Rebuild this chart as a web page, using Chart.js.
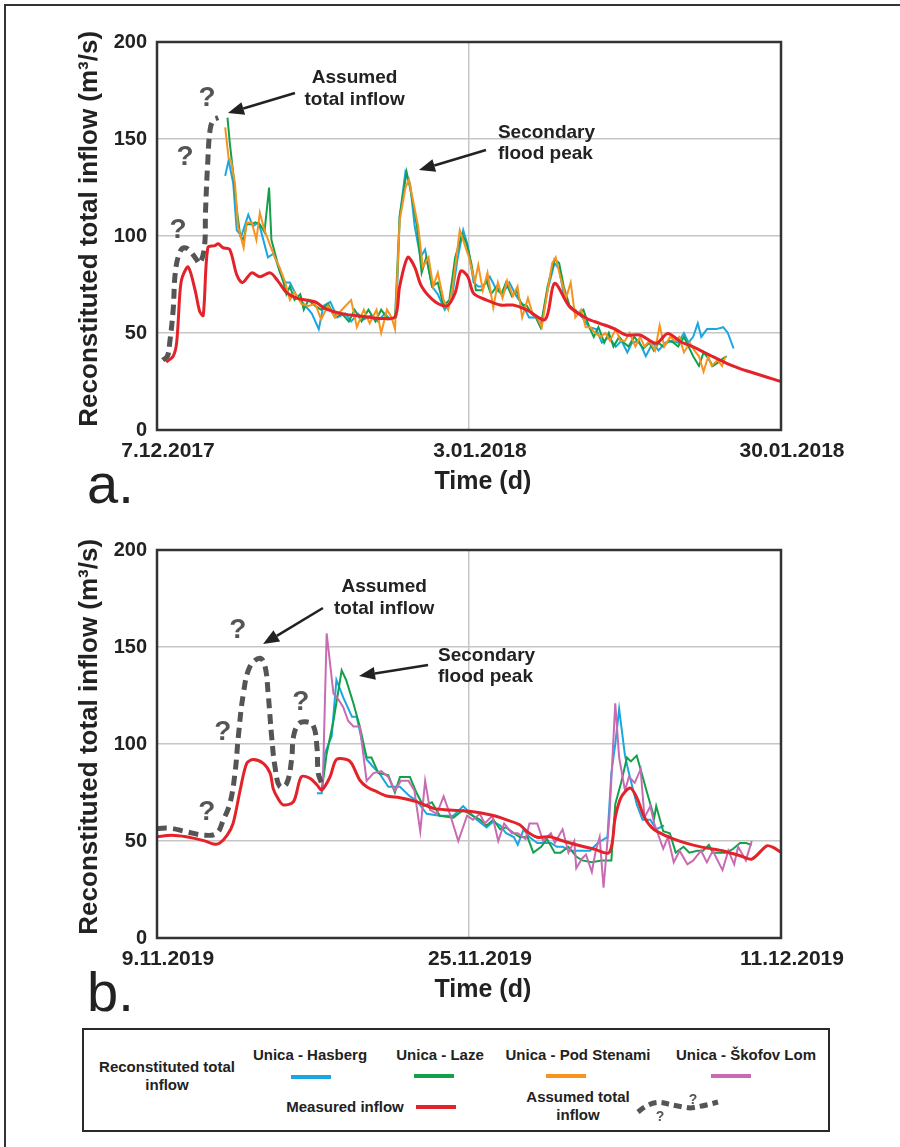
<!DOCTYPE html>
<html>
<head>
<meta charset="utf-8">
<script src="https://cdn.jsdelivr.net/npm/chart.js@4.4.1/dist/chart.umd.min.js"></script>
<style>
  body { margin: 0; background: #fff; }
  #page { position: relative; width: 900px; height: 1147px; overflow: hidden;
          font-family: 'Liberation Sans', Arial, sans-serif; color: #222; }
  #frame { position: absolute; left: 4px; top: 4px; width: 1000px; height: 1200px; border: 2px solid #333; }
  #page canvas { position: absolute; left: 0; }
  #legend { position: absolute; left: 82px; top: 1028px; width: 744px; height: 100px; border: 2.5px solid #2a2a2a; }
  .lg { position: absolute; font-weight: bold; font-size: 15px; white-space: nowrap; transform: translate(-50%, -50%); }
  .sw { position: absolute; height: 4px; width: 40px; }
</style>
</head>
<body>
<div id="page">
  <div id="frame"></div>
  <canvas id="chartA" width="900" height="520" style="top:0"></canvas>
  <canvas id="chartB" width="900" height="520" style="top:508px"></canvas>

  <div id="legend"></div>
  <div class="lg" style="left:167px;top:1076px;text-align:center;line-height:18px">Reconstituted total<br>inflow</div>
  <div class="lg" style="left:310px;top:1054px">Unica - Hasberg</div>
  <div class="sw" style="left:291px;top:1075px;background:#1aa7e0"></div>
  <div class="lg" style="left:440px;top:1054px">Unica - Laze</div>
  <div class="sw" style="left:414px;top:1074px;background:#14a04a"></div>
  <div class="lg" style="left:578px;top:1054px">Unica - Pod Stenami</div>
  <div class="sw" style="left:546px;top:1074px;background:#f7931e"></div>
  <div class="lg" style="left:746px;top:1054px">Unica - Škofov Lom</div>
  <div class="sw" style="left:711px;top:1074px;background:#c96bb3"></div>
  <div class="lg" style="left:345px;top:1106px">Measured inflow</div>
  <div class="sw" style="left:416px;top:1105px;background:#e3222a"></div>
  <div class="lg" style="left:578px;top:1106px;text-align:center;line-height:18px">Assumed total<br>inflow</div>
  <svg style="position:absolute;left:0;top:0" width="900" height="1147">
    <path d="M638,1112 Q652,1100 664,1103 Q676,1106 690,1108 Q704,1106 718,1102" fill="none"
          stroke="#555" stroke-width="5" stroke-dasharray="8,5"/>
    <text x="660" y="1121" font-family="Liberation Sans, Arial" font-weight="bold" font-size="14" fill="#555" text-anchor="middle">?</text>
    <text x="693" y="1104" font-family="Liberation Sans, Arial" font-weight="bold" font-size="14" fill="#555" text-anchor="middle">?</text>
  </svg>
</div>

<script>
// ---- panel a: 7.12.2017 - 30.01.2018 (days since 7.12.2017) ----
const dateTicksA = ['7.12.2017', '3.01.2018', '30.01.2018'];

const measuredDaysA = [0.8,1.4,1.7,2.0,2.2,2.7,3.3,3.7,4.0,4.4,5.0,5.3,5.7,6.3,6.9,7.4,8.2,8.9,9.8,10.5,11.2,12.1,13.7,14.5,16.0,18.0,19.4,20.6,21.0,21.7,22.3,22.9,24.1,25.1,25.8,26.3,26.9,27.4,28.5,29.7,30.8,32.0,33.6,34.4,35.7,37.2,38.3,39.5,40.6,41.8,43.2,44.2,45.3,46.4,48.1,49.3,50.4,51.3,52.8,54.0];
const measuredFlowA = [35,38,45,72,79,84,72,61,59,94,95,96,94,93,80,76,81,79,81,76.5,71,68,66,62.7,60,58.4,57.5,58.4,74,89,84,74,66,64,70.6,82,79,70.4,67,64.4,64.4,61.9,57,75.6,63.6,57.5,55,52.4,49,49,44.7,49.8,45.5,42.9,37.8,34.4,31.8,30,27.2,25];

const assumedDaysA = [0.5,0.9,1.1,1.4,1.6,2.0,2.4,2.9,3.4,3.7,4.1,4.2,4.4,4.6,4.9,5.3];
const assumedFlowA = [36,38,45,62,82,92,94,92,88,86,94,113,139,155,160,161];

const hasbergDaysA = [5.9,6.2,6.6,6.9,7.3,7.9,8.3,8.8,9.2,9.6,10.1,10.5,11.1,11.5,12.1,12.7,13.4,14.0,14.4,15.0,15.6,16.3,16.8,17.4,17.9,18.5,19.1,19.7,20.2,20.7,21.0,21.5,21.9,22.3,22.8,23.2,23.8,24.3,24.9,25.5,26.0,26.5,26.9,27.4,27.8,28.2,28.8,29.4,29.9,30.5,31.1,31.6,32.2,32.8,33.2,33.8,34.4,34.8,35.2,35.7,36.2,36.8,37.4,38.0,38.5,39.1,39.7,40.2,40.7,41.1,41.7,42.3,42.9,43.4,44.0,44.6,45.1,45.6,46.0,46.4,46.8,47.1,47.6,48.0,48.4,49.0,49.4,49.9];
const hasbergFlowA = [131,139,127,103,100,111,105,107,98,89,91,84,76,76,69,65,60,52,64,66,58,60,56,60,57,59,56,60,57,58,110,133,127,105,89,93,74,70,62,67,88,103,95,76,74,74,79,72,70,76,69,65,58,58,53,72,86,83,70,64,62,58,53,52,45,48,43,46,40,45,46,38,45,41,45,46,45,50,45,48,55,48,52,52,52,53,50,42];

const lazeDaysA = [6.1,6.3,6.6,6.9,7.2,7.5,7.75,8.2,8.5,8.9,9.3,9.7,9.9,10.3,10.6,10.9,11.2,11.5,11.9,12.4,12.7,13.1,13.7,14.2,14.8,15.4,16.0,16.6,17.1,17.7,18.3,18.9,19.4,20.0,20.6,21.0,21.6,22.0,22.5,22.9,23.3,23.8,24.3,24.8,25.3,25.8,26.4,26.8,27.2,27.6,28.1,28.5,28.9,29.4,29.8,30.2,30.7,31.1,31.5,32.0,32.4,32.8,33.2,33.8,34.4,34.8,35.2,35.7,36.1,36.5,36.9,37.4,37.8,38.2,38.7,39.1,39.5,40.0,40.4,40.8,41.3,41.7,42.1,42.6,43.0,43.4,43.8,44.3,44.7,45.1,45.6,46.0,46.4,46.9,47.3,47.7,48.1,48.6,49.0,49.3];
const lazeFlowA = [161,148,132,114,100,98,106,106,107,106,102,125,98,89,82,77,70,74,67,70,62,67,64,62,65,58,60,56,62,56,62,56,62,57,58,110,133,122,105,81,89,74,76,64,67,89,101,96,86,72,72,77,70,74,70,76,69,72,65,64,60,58,53,74,88,86,74,64,62,60,62,53,48,53,45,50,43,48,45,43,48,45,42,45,41,45,43,46,45,43,48,43,38,33,40,37,33,35,37,38];

const podStenamiDaysA = [5.9,6.2,6.4,6.75,7.0,7.5,7.75,8.2,8.6,8.9,9.3,9.8,10.2,10.6,11.1,11.5,11.9,12.5,13.1,13.7,14.2,14.8,15.4,16.0,16.8,17.3,17.9,18.4,19.0,19.4,19.9,20.3,20.6,21.0,21.5,21.8,22.2,22.6,23.0,23.5,23.9,24.3,24.8,25.2,25.6,26.2,26.6,27.0,27.5,27.8,28.2,28.6,29.1,29.5,29.9,30.3,30.8,31.2,31.6,32.1,32.5,32.9,33.3,33.8,34.2,34.5,34.9,35.4,35.8,36.2,36.7,37.1,37.5,37.9,38.4,38.8,39.2,39.7,40.1,40.5,40.9,41.4,41.8,42.2,42.6,43.1,43.5,43.9,44.4,44.8,45.2,45.6,46.1,46.5,46.9,47.3,47.7,48.0,48.5,48.9,49.2];
const podStenamiFlowA = [156,140,139,127,105,94,107,107,98,112,103,95,89,84,76,67,71,65,64,65,57,64,58,62,67,53,62,55,62,50,62,58,52,108,125,129,117,105,84,89,74,81,67,62,74,103,96,89,76,85,72,81,63,76,68,77,69,74,58,68,60,58,53,72,86,89,79,68,76,58,62,53,53,50,48,50,46,52,46,46,50,43,48,43,46,41,54,43,48,46,48,40,45,41,38,30,38,33,36,33,38];

// ---- panel b: 9.11.2019 - 11.12.2019 (days since 9.11.2019) ----
const dateTicksB = ['9.11.2019', '25.11.2019', '11.12.2019'];

const measuredDaysB = [0,0.75,1.5,2.4,2.9,3.2,3.6,3.9,4.26,4.6,4.94,5.45,5.8,5.96,6.2,6.48,7.0,7.4,7.85,8.2,8.45,8.87,9.2,9.73,9.98,10.4,10.75,11.27,11.78,12.46,13.3,14.17,15.0,16.05,17.25,17.9,18.6,18.96,19.5,20.15,20.67,21.5,22.4,23.2,23.5,23.8,24.26,24.6,25.0,25.45,26.1,27.0,28.0,29.0,29.9,30.5,31.27,31.6,32.0];
const measuredFlowB = [52.2,53,52.2,50.2,48.5,48.8,53,59,76,90,92,90,85,77,72,68.6,70.3,83,82.3,79,76.3,83,92,92,90,81.4,78,75.4,73.2,72.3,70.3,66.8,66,65.3,63.1,61,58.4,55,51.9,52.2,50.5,48.1,45.9,44.2,62.2,72.5,77.3,72.5,62.2,56.2,52.7,49.3,46.7,45,42.4,40.7,47.5,46.7,44.2];

const assumedDaysB = [0,0.67,1.5,2.4,3.06,3.4,3.74,4.0,4.17,4.43,4.77,5.28,5.54,5.7,5.88,6.05,6.3,6.65,6.9,7.0,7.25,7.6,8.0,8.2,8.27,8.45];
const assumedFlowB = [56.5,56.6,54.8,53,54,60.8,69.4,85,103.8,126,140,144.2,140,126,103.8,88.3,78,79.7,91.8,103.8,110.3,111.5,109.8,98.6,85,79.7];

const hasbergDaysB = [8.2,8.45,8.6,8.96,9.2,9.55,10.0,10.24,10.5,10.75,11.1,11.4,11.86,12.46,12.97,13.3,13.83,14.5,15.2,15.7,16.4,16.9,17.25,17.6,17.9,18.3,18.5,18.8,19.1,19.5,19.8,20.2,20.5,20.8,21.2,21.7,22.2,22.6,23.1,23.3,23.5,23.7,24.0,24.2,24.6,24.9,25.3,25.6,26.0];
const hasbergFlowB = [74.6,74.6,95,104,133,124,114,114,102,92,88,85,78,78,73,71,64,63,63,68,61,57,60,58,54,52,48,56,52,49,49,49,47,47,45,45,45,49,52,85,100,118,94,85,69,61,61,56,58];

const lazeDaysB = [8.45,8.7,9.05,9.47,9.7,10.07,10.4,10.75,11.0,11.35,11.86,12.2,12.46,12.97,13.3,13.66,14.1,14.5,15.2,15.7,16.2,16.56,16.9,17.25,17.6,17.9,18.3,18.6,19.0,19.3,19.7,20.0,20.4,20.7,21.1,21.5,21.8,22.3,22.8,23.3,23.5,23.8,24.1,24.3,24.6,24.8,25.1,25.5,25.6,25.96,26.3,26.6,27.0,27.3,27.7,28.0,28.3,28.5,28.9,29.2,29.55,29.9,30.2,30.5];
const lazeFlowB = [76,95,112,138,133,121,109,93,93,85,84,75,83,83,75,68,70,63,62,66,63,61,58,61,56,57,54,52,52,44,47,51,44,44,47,42,40,39,40,40,69,80,93,91,94,87,76,62,68,55,54,44,47,44,45,45,48,44,44,44,46,49,49,48];

const skofovLomDaysB = [8.5,8.7,9.05,9.3,9.55,9.8,10.07,10.4,10.75,11.1,11.5,11.86,12.2,12.5,12.9,13.2,13.5,13.75,14.0,14.35,14.7,15.05,15.45,15.9,16.2,16.56,16.8,17.2,17.5,17.8,18.2,18.5,18.9,19.1,19.5,19.8,20.2,20.4,20.8,21.1,21.4,21.5,21.8,22.0,22.3,22.5,22.7,22.9,23.2,23.5,23.7,24.0,24.2,24.5,24.8,25.0,25.3,25.5,25.96,26.2,26.5,26.8,27.2,27.5,27.9,28.2,28.5,29.0,29.3,29.6,29.8,30.2,30.5];
const skofovLomFlowB = [78,157,126,123,119,112,109,109,81,85,86,83,76,81,81,76,55,81,66,64,73,63,50,63,61,64,59,63,50,59,54,54,51,59,59,50,54,49,56,44,50,36,41,43,34,45,52,26,62,121,93,76,83,80,87,62,68,59,46,52,39,45,38,40,45,39,45,35,45,38,47,40,50];

const FONT = "'Liberation Sans', Arial, sans-serif";
Chart.defaults.font.family = FONT;
Chart.defaults.color = '#222';

const pts = (xs, ys) => xs.map((x, i) => ({ x, y: ys[i] }));

function noisy(label, xs, ys, color, order) {
  return { label, data: pts(xs, ys), borderColor: color, borderWidth: 2, pointRadius: 0, tension: 0, order };
}
function measured(xs, ys) {
  return { label: 'Measured inflow', data: pts(xs, ys), borderColor: '#e3222a', borderWidth: 3, pointRadius: 0, tension: 0.3, order: 1 };
}
function assumed(xs, ys) {
  return { label: 'Assumed total inflow', data: pts(xs, ys), borderColor: '#555', borderWidth: 5,
           borderDash: [10, 6], pointRadius: 0, tension: 0.4, order: 2 };
}

// arrows, labels and question marks, placed in data coordinates
const notesPlugin = {
  id: 'notes',
  afterDraw(chart, args, opts) {
    const { ctx, chartArea: a, scales: { x, y } } = chart;
    const px = d => x.getPixelForValue(d), py = v => y.getPixelForValue(v);
    ctx.save();
    ctx.strokeStyle = '#333';
    ctx.lineWidth = 2.5;
    ctx.strokeRect(a.left, a.top, a.right - a.left, a.bottom - a.top);

    ctx.fillStyle = '#222';
    ctx.font = 'bold 19px ' + FONT;
    ctx.textBaseline = 'middle';
    opts.texts.forEach(t => {
      ctx.textAlign = t.align;
      ctx.fillText(t.text, px(t.day), py(t.val));
    });

    ctx.strokeStyle = '#222';
    ctx.lineWidth = 2.5;
    opts.arrows.forEach(ar => {
      const x0 = px(ar.from[0]), y0 = py(ar.from[1]);
      const x1 = px(ar.to[0]), y1 = py(ar.to[1]);
      const ang = Math.atan2(y1 - y0, x1 - x0), head = 16, half = 6.5;
      const bx = x1 - head * Math.cos(ang), by = y1 - head * Math.sin(ang);
      ctx.beginPath();
      ctx.moveTo(x0, y0);
      ctx.lineTo(bx, by);
      ctx.stroke();
      ctx.beginPath();
      ctx.moveTo(x1, y1);
      ctx.lineTo(bx + half * Math.sin(ang), by - half * Math.cos(ang));
      ctx.lineTo(bx - half * Math.sin(ang), by + half * Math.cos(ang));
      ctx.closePath();
      ctx.fill();
    });

    ctx.fillStyle = '#555';
    ctx.font = 'bold 28px ' + FONT;
    ctx.textAlign = 'center';
    opts.marks.forEach(m => ctx.fillText('?', px(m[0]), py(m[1])));

    ctx.fillStyle = '#222';
    ctx.font = '56px ' + FONT;
    ctx.textAlign = 'left';
    ctx.textBaseline = 'alphabetic';
    ctx.fillText(opts.letter, a.left - 70, a.bottom + 73);
    ctx.restore();
  }
};

function makeChart(canvas, span, tickLabels, datasets, notes) {
  return new Chart(canvas, {
    type: 'line',
    data: { datasets },
    options: {
      responsive: false,
      animation: false,
      events: [],
      layout: { padding: { left: 40, top: 42, right: 119, bottom: 20 } },
      scales: {
        x: {
          type: 'linear',
          min: 0,
          max: span,
          afterFit: s => { s.height = 70; },
          border: { display: false },
          grid: { drawTicks: false, lineWidth: 1.5, color: c => c.index === 1 ? '#c6c6c6' : 'transparent' },
          ticks: {
            stepSize: span / 2,
            autoSkip: false,
            maxRotation: 0,
            padding: 9,
            labelOffset: 11,
            font: { size: 21, weight: 'bold' },
            callback: (v, i) => tickLabels[i]
          },
          title: { display: true, text: '    Time (d)', font: { size: 25, weight: 'bold' }, padding: { top: 0, bottom: 3 } }
        },
        y: {
          min: 0,
          max: 200,
          afterFit: s => { s.width = 117; },
          border: { display: false },
          grid: { drawTicks: false, lineWidth: 1.5, color: c => (c.tick.value === 0 || c.tick.value === 200) ? 'transparent' : '#c6c6c6' },
          ticks: { stepSize: 50, padding: 10, font: { size: 20, weight: 'bold' } },
          title: { display: true, text: '  Reconstituted total inflow (m³/s)', font: { size: 26, weight: 'bold' }, padding: { top: 34, bottom: 0 } }
        }
      },
      plugins: {
        legend: { display: false },
        tooltip: { enabled: false },
        notes
      }
    },
    plugins: [notesPlugin]
  });
}

makeChart(document.getElementById('chartA'), 54, dateTicksA, [
  measured(measuredDaysA, measuredFlowA),
  assumed(assumedDaysA, assumedFlowA),
  noisy('Unica - Pod Stenami', podStenamiDaysA, podStenamiFlowA, '#f7931e', 3),
  noisy('Unica - Laze', lazeDaysA, lazeFlowA, '#14a04a', 4),
  noisy('Unica - Hasberg', hasbergDaysA, hasbergFlowA, '#1aa7e0', 5)
], {
  letter: 'a.',
  texts: [
    { text: 'Assumed', day: 17.1, val: 181.4, align: 'center' },
    { text: 'total inflow', day: 17.1, val: 170.1, align: 'center' },
    { text: 'Secondary', day: 29.5, val: 153.1, align: 'left' },
    { text: 'flood peak', day: 29.5, val: 142.3, align: 'left' }
  ],
  arrows: [
    { from: [11.94, 173.7], to: [6.14, 163.4] },
    { from: [28.47, 144.3], to: [22.67, 134.0] }
  ],
  marks: [[4.33, 171.1], [2.42, 140.7], [1.82, 103.1]]
});

makeChart(document.getElementById('chartB'), 32, dateTicksB, [
  measured(measuredDaysB, measuredFlowB),
  assumed(assumedDaysB, assumedFlowB),
  noisy('Unica - Škofov Lom', skofovLomDaysB, skofovLomFlowB, '#c96bb3', 3),
  noisy('Unica - Laze', lazeDaysB, lazeFlowB, '#14a04a', 4),
  noisy('Unica - Hasberg', hasbergDaysB, hasbergFlowB, '#1aa7e0', 5)
], {
  letter: 'b.',
  texts: [
    { text: 'Assumed', day: 11.65, val: 180.9, align: 'center' },
    { text: 'total inflow', day: 11.65, val: 169.6, align: 'center' },
    { text: 'Secondary', day: 14.41, val: 145.4, align: 'left' },
    { text: 'flood peak', day: 14.41, val: 134.5, align: 'left' }
  ],
  arrows: [
    { from: [8.51, 170.1], to: [5.44, 151.5] },
    { from: [13.9, 140.7], to: [10.36, 135.1] }
  ],
  marks: [[4.15, 158.8], [3.38, 106.2], [7.38, 121.6], [2.56, 64.9]]
});
</script>
</body>
</html>
